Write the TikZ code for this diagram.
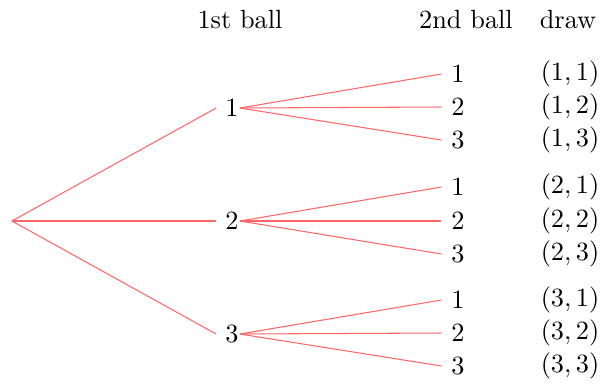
\documentclass[tikz,border=0pt]{standalone}
\begin{document}
\begin{tikzpicture}[x=0.38pt,y=-0.38pt,
  edge/.style={draw=red!60,line width=0.4pt},
  lbl/.style={inner sep=0pt}]
\useasboundingbox (0,0) rectangle (602,385);
\node (h1) at (240,20) {1st ball};
\node (h2) at (466,20) {2nd ball};
\node (h3) at (568,20) {draw};
\coordinate (r) at (12,221);
\node[lbl] (a) at (232,108) {1};
\node[lbl] (b) at (232,221) {2};
\node[lbl] (c) at (232,334) {3};
\node[lbl] (a1) at (458,74) {1};
\node[lbl] (a2) at (458,107) {2};
\node[lbl] (a3) at (458,140) {3};
\node[lbl] (b1) at (458,187) {1};
\node[lbl] (b2) at (458,221) {2};
\node[lbl] (b3) at (458,254) {3};
\node[lbl] (c1) at (458,300) {1};
\node[lbl] (c2) at (458,333) {2};
\node[lbl] (c3) at (458,366) {3};
\node (d11) at (570,74) {$(1,1)$};
\node (d12) at (570,107) {$(1,2)$};
\node (d13) at (570,140) {$(1,3)$};
\node (d21) at (570,187) {$(2,1)$};
\node (d22) at (570,221) {$(2,2)$};
\node (d23) at (570,254) {$(2,3)$};
\node (d31) at (570,300) {$(3,1)$};
\node (d32) at (570,333) {$(3,2)$};
\node (d33) at (570,366) {$(3,3)$};
\foreach \n in {a,b,c} \draw[edge] (r) -- ([xshift=-3.3pt]\n.west);
\foreach \p in {a,b,c} \foreach \k in {1,2,3} \draw[edge] ([xshift=0.3pt]\p.east) -- ([xshift=-3.6pt]\p\k.west);
\end{tikzpicture}
\end{document}
